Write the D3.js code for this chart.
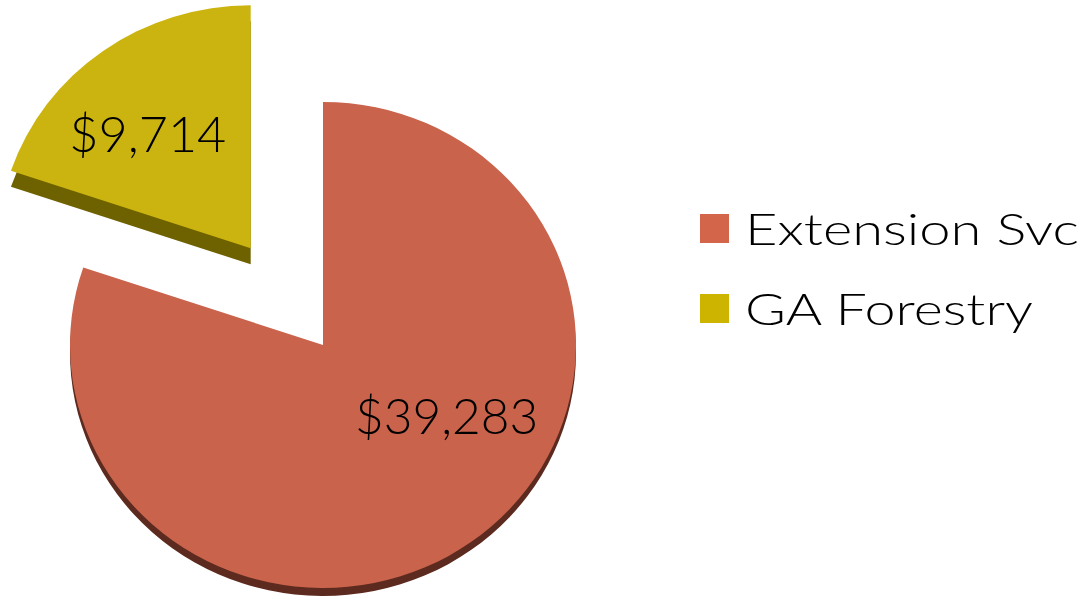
<!DOCTYPE html>
<html>
<head>
<meta charset="utf-8">
<script src="https://cdn.jsdelivr.net/npm/d3@7"></script>
<style>
  body { margin: 0; background: #fff; }
  text { font-family: Lato, "Open Sans", sans-serif; fill: #000; font-weight: 300; }
</style>
</head>
<body>
<script>
// data
let categories = ["Extension Svc", "GA Forestry"];
let amounts = [39283, 9714];
let valueLabels = ["$39,283", "$9,714"];

let svgWidth = 1090;
let svgHeight = 603;

let svg = d3.select("body")
    .append("svg")
    .attr("width", svgWidth)
    .attr("height", svgHeight)

// pie geometry (slightly tilted, so the circle is an ellipse)
let cx = 323, cy = 345;
let rx = 253, ry = 243;
let explode = [0, 0.49];
let depth = [8, 16];
let topColor = ["#c9634b", "#cbb40f"];
let sideColor = ["#5c2a1f", "#6e6100"];
let legendColor = ["#d3654a", "#ccb400"];
// label spot in ellipse units (angle clockwise from top, radius fraction)
let labelSpot = [{a: 121, r: 0.57, w: 183}, {a: 319, r: 0.62, w: 157}];
let legendTextWidth = [334, 288];

let pie = d3.pie().sort(null).value(d => d)
let arcs = pie(amounts)

let arc = d3.arc().innerRadius(0).outerRadius(rx)

let chartGroup = svg.append("g")

arcs.forEach(function (d, i) {
    let mid = (d.startAngle + d.endAngle) / 2
    let ox = cx + Math.sin(mid) * explode[i] * rx
    let oy = cy - Math.cos(mid) * explode[i] * ry

    let g = chartGroup.append("g")
        .attr("transform", `translate(${ox},${oy})`)

    // side (thickness) under the top face
    g.append("path")
        .attr("d", arc(d))
        .attr("transform", `translate(0,${depth[i]}) scale(1,${ry / rx})`)
        .attr("fill", sideColor[i])

    g.append("path")
        .attr("d", arc(d))
        .attr("transform", `scale(1,${ry / rx})`)
        .attr("fill", topColor[i])

    let la = labelSpot[i].a * Math.PI / 180
    g.append("text")
        .attr("x", Math.sin(la) * labelSpot[i].r * rx)
        .attr("y", -Math.cos(la) * labelSpot[i].r * ry)
        .attr("dy", "0.36em")
        .attr("text-anchor", "middle")
        .attr("textLength", labelSpot[i].w)
        .attr("lengthAdjust", "spacingAndGlyphs")
        .style("font-size", "49px")
        .text(valueLabels[i])
})

// legend
let legend = svg.append("g")
    .attr("transform", "translate(700,214)")

categories.forEach(function (c, i) {
    let row = legend.append("g")
        .attr("transform", `translate(0,${i * 80})`)
    row.append("rect")
        .attr("width", 29)
        .attr("height", 29)
        .attr("fill", legendColor[i])
    row.append("text")
        .attr("x", 45)
        .attr("y", 31)
        .attr("textLength", legendTextWidth[i])
        .attr("lengthAdjust", "spacingAndGlyphs")
        .style("font-size", "43px")
        .text(c)
})
</script>
</body>
</html>
